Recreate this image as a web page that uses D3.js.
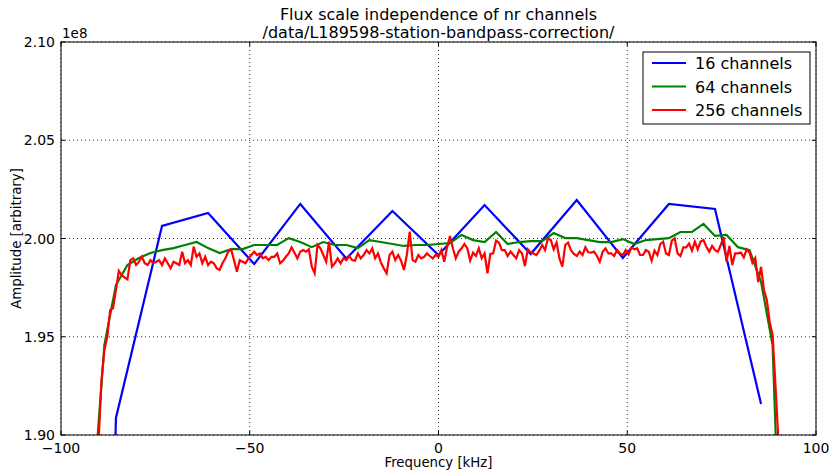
<!DOCTYPE html>
<html><head><meta charset="utf-8">
<script src="https://cdn.jsdelivr.net/npm/d3@7"></script>
<style>body{margin:0;background:#fff}svg{display:block}text{font-family:"DejaVu Sans",sans-serif}</style>
</head><body><svg id="c" width="829" height="470"></svg>
<script>
const titleLines = ["Flux scale independence of nr channels", "/data/L189598-station-bandpass-correction/"];
const xLabel = "Frequency [kHz]";
const yLabel = "Amplitude [arbitrary]";
const offsetLabel = "1e8";
const bandwidthKHz = 195.3125;
const xTicks = [-100, -50, 0, 50, 100];
const xTickLabels = ["\u2212100", "\u221250", "0", "50", "100"];
const yTicks = [1.90, 1.95, 2.00, 2.05, 2.10];
const yTickLabels = ["1.90", "1.95", "2.00", "2.05", "2.10"];
const seriesNames = ["16 channels", "64 channels", "256 channels"];
const seriesColors = ["#0000ff", "#008000", "#ff0000"];

// amplitudes in units of 1e8, channel k = -N/2 .. N/2-1
const amp16 = [0.95, 1.9087, 2.0064, 2.0130, 1.9870, 2.0176, 1.9898, 2.0140, 1.9916, 2.0170, 1.9921, 2.0196, 1.9901, 2.0176, 2.0150, 1.9158];

const amp64 = [1.40, 1.65, 1.867, 1.9458, 1.9763, 1.9865, 1.9901, 1.9926, 1.9941, 1.9951, 1.9967, 1.9982, 1.9951, 1.9926, 1.9946, 1.9946,
  1.9967, 1.9967, 1.9967, 2.0002, 1.9982, 1.9956, 1.9982, 1.9967, 1.9967, 1.9951, 1.9992, 1.9982, 1.9972, 1.9962, 1.9967, 1.9967,
  1.9972, 1.9977, 2.0018, 1.9992, 1.9982, 2.0033, 1.9972, 1.9982, 1.9987, 1.9987, 2.0028, 2.0002, 2.0002, 1.9992, 1.9982, 1.9982,
  1.9997, 1.9972, 1.9992, 1.9997, 2.0002, 2.0033, 2.0033, 2.0074, 2.0013, 2.0018, 1.9956, 1.9941, 1.9778, 1.9458, 1.7763, 1.55];

const amp256 = [
  1.20, 1.35, 1.48, 1.58, 1.66, 1.72, 1.77, 1.81, 1.84, 1.87,
  1.8974, 1.9280, 1.9433, 1.9499, 1.9636, 1.9646, 1.9738, 1.9835, 1.9814, 1.9802,
  1.9792, 1.9890, 1.9899, 1.9865, 1.9882, 1.9907, 1.9874, 1.9865, 1.9890, 1.9874,
  1.9882, 1.9890, 1.9865, 1.9899, 1.9874, 1.9848, 1.9882, 1.9874, 1.9865, 1.9933,
  1.9874, 1.9890, 1.9865, 1.9958, 1.9907, 1.9924, 1.9874, 1.9907, 1.9865, 1.9882,
  1.9874, 1.9848, 1.9840, 1.9874, 1.9899, 1.9933, 1.9945, 1.9890, 1.9831, 1.9890,
  1.9882, 1.9874, 1.9899, 1.9916, 1.9933, 1.9916, 1.9924, 1.9899, 1.9907, 1.9890,
  1.9907, 1.9907, 1.9924, 1.9874, 1.9887, 1.9907, 1.9924, 1.9955, 1.9928, 1.9899,
  1.9933, 1.9941, 1.9933, 1.9945, 1.9857, 1.9823, 1.9967, 1.9950, 1.9916, 1.9882,
  1.9984, 1.9857, 1.9874, 1.9899, 1.9874, 1.9899, 1.9890, 1.9911, 1.9890, 1.9887,
  1.9924, 1.9899, 1.9916, 1.9941, 1.9924, 1.9950, 1.9899, 1.9924, 1.9877, 1.9848,
  1.9823, 1.9916, 1.9933, 1.9890, 1.9916, 1.9887, 1.9840, 1.9916, 2.0035, 1.9890,
  1.9882, 1.9916, 1.9899, 1.9907, 1.9924, 1.9911, 1.9899, 1.9916, 1.9907, 1.9941,
  1.9882, 1.9958, 2.0013, 1.9950, 1.9899, 1.9933, 1.9950, 1.9972, 1.9950, 1.9887,
  1.9928, 1.9911, 1.9950, 1.9899, 1.9924, 1.9823, 1.9921, 1.9924, 1.9989, 1.9979,
  1.9941, 1.9941, 1.9911, 1.9933, 1.9916, 1.9899, 1.9941, 1.9924, 1.9860, 1.9945,
  1.9928, 1.9924, 1.9916, 1.9938, 1.9967, 1.9941, 2.0001, 1.9992, 1.9945, 1.9979,
  1.9899, 1.9857, 1.9967, 1.9979, 1.9941, 1.9921, 1.9911, 1.9933, 1.9916, 1.9955,
  1.9930, 1.9928, 1.9933, 1.9911, 1.9882, 1.9933, 1.9950, 1.9924, 1.9924, 1.9911,
  1.9941, 1.9924, 1.9916, 1.9941, 1.9919, 1.9955, 1.9945, 1.9950, 1.9916, 1.9916,
  1.9941, 1.9933, 1.9887, 1.9938, 1.9916, 1.9972, 1.9984, 1.9924, 1.9916, 1.9989,
  2.0001, 1.9924, 1.9911, 1.9955, 1.9955, 1.9975, 1.9938, 1.9984, 1.9945, 1.9984,
  1.9992, 1.9958, 1.9933, 1.9962, 1.9941, 1.9933, 1.9967, 2.0007, 1.9882, 1.9962,
  1.9865, 1.9924, 1.9924, 1.9928, 1.9904, 1.9945, 1.9928, 1.9877, 1.9901, 1.9778,
  1.9855, 1.9738, 1.9687, 1.9575, 1.9509, 1.9254, 1.8974, 1.86, 1.82, 1.78,
  1.73, 1.67, 1.60, 1.52, 1.42, 1.30];

const series = [amp16, amp64, amp256].map((a, i) => ({
  name: seriesNames[i], color: seriesColors[i],
  pts: a.map((v, j) => ({ f: (j - a.length / 2) * bandwidthKHz / a.length, v }))
}));

const svg = d3.select("#c");
const L = 61, R = 816, T = 42, B = 435;
const x = d3.scaleLinear().domain([-100, 100]).range([L, R]);
const y = d3.scaleLinear().domain([1.90, 2.10]).range([B, T]);

svg.append("defs").append("clipPath").attr("id", "clip")
  .append("rect").attr("x", L).attr("y", T).attr("width", R - L).attr("height", B - T);

// grid
const g = svg.append("g");
xTicks.forEach(t => g.append("line").attr("x1", x(t)).attr("x2", x(t)).attr("y1", T).attr("y2", B)
  .attr("stroke", "#000").attr("stroke-width", 0.8).attr("stroke-dasharray", "1,3"));
yTicks.forEach(t => g.append("line").attr("x1", L).attr("x2", R).attr("y1", y(t)).attr("y2", y(t))
  .attr("stroke", "#000").attr("stroke-width", 0.8).attr("stroke-dasharray", "1,3"));

// lines
const line = d3.line().x(d => x(d.f)).y(d => y(d.v));
const lg = svg.append("g").attr("clip-path", "url(#clip)");
series.forEach(s => lg.append("path").datum(s.pts).attr("d", line)
  .attr("fill", "none").attr("stroke", s.color).attr("stroke-width", 2.2).attr("stroke-linejoin", "miter"));

// frame
svg.append("rect").attr("x", L).attr("y", T).attr("width", R - L).attr("height", B - T)
  .attr("fill", "none").attr("stroke", "#000").attr("stroke-width", 1);

// ticks (inward, all sides)
const tk = svg.append("g").attr("stroke", "#000").attr("stroke-width", 1);
xTicks.forEach(t => {
  tk.append("line").attr("x1", x(t)).attr("x2", x(t)).attr("y1", B).attr("y2", B - 4);
  tk.append("line").attr("x1", x(t)).attr("x2", x(t)).attr("y1", T).attr("y2", T + 4);
});
yTicks.forEach(t => {
  tk.append("line").attr("x1", L).attr("x2", L + 4).attr("y1", y(t)).attr("y2", y(t));
  tk.append("line").attr("x1", R).attr("x2", R - 4).attr("y1", y(t)).attr("y2", y(t));
});

// tick labels
xTicks.forEach((t, i) => svg.append("text").attr("x", x(t)).attr("y", 453).attr("text-anchor", "middle")
  .attr("font-size", 14).text(xTickLabels[i]));
yTicks.forEach((t, i) => svg.append("text").attr("x", 55).attr("y", y(t) + 5).attr("text-anchor", "end")
  .attr("font-size", 14).text(yTickLabels[i]));
svg.append("text").attr("x", L + 1).attr("y", 38).attr("font-size", 13.5).text(offsetLabel);

// axis labels
svg.append("text").attr("x", (L + R) / 2).attr("y", 467).attr("text-anchor", "middle").attr("font-size", 13.3).text(xLabel);
svg.append("text").attr("transform", `translate(21,${(T + B) / 2}) rotate(-90)`).attr("text-anchor", "middle")
  .attr("font-size", 13.3).text(yLabel);

// title
titleLines.forEach((t, i) => svg.append("text").attr("x", (L + R) / 2).attr("y", 20 + i * 17.5)
  .attr("text-anchor", "middle").attr("font-size", 16).text(t));

// legend
const lgd = svg.append("g");
lgd.append("rect").attr("x", 643).attr("y", 52).attr("width", 167).attr("height", 72)
  .attr("fill", "#fff").attr("stroke", "#000").attr("stroke-width", 1);
series.forEach((s, i) => {
  const yy = 63 + i * 23.5;
  lgd.append("line").attr("x1", 652).attr("x2", 686).attr("y1", yy).attr("y2", yy)
    .attr("stroke", s.color).attr("stroke-width", 2.2);
  lgd.append("text").attr("x", 695).attr("y", yy + 6).attr("font-size", 16).text(s.name);
});
</script></body></html>
